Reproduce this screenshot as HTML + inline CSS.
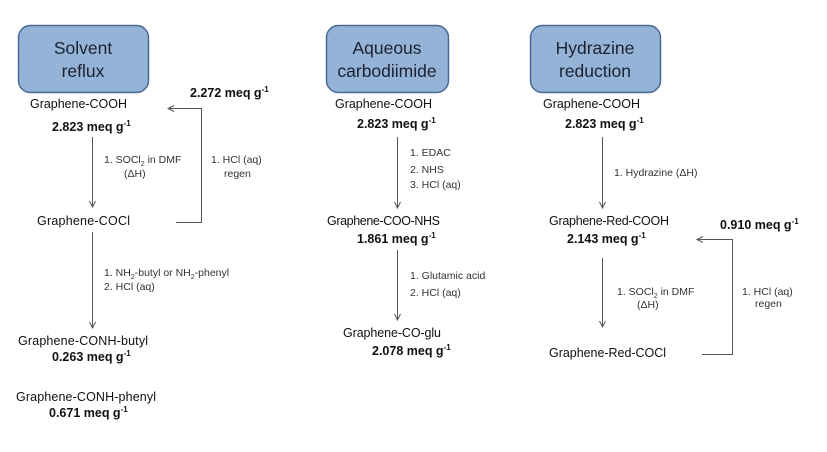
<!DOCTYPE html>
<html><head><meta charset="utf-8"><style>
html,body{margin:0;padding:0;background:#fff;}
svg{display:block;font-family:"Liberation Sans",sans-serif;}
.m{font-size:12.5px;fill:#111;}
.b{font-size:12.5px;font-weight:bold;fill:#111;}
.s{font-size:10.5px;fill:#333;}
.h{font-size:17.5px;fill:#1a2233;}
.l{stroke:#555;stroke-width:1;fill:none;}
</style></head><body>
<svg width="827" height="452" viewBox="0 0 827 452">
<defs><marker id="a" markerWidth="8" markerHeight="8" refX="7" refY="4" orient="auto" markerUnits="userSpaceOnUse"><path d="M1,1 L7,4 L1,7" fill="none" stroke="#555" stroke-width="1"/></marker></defs>
<rect x="18.5" y="25.5" width="130" height="67" rx="12" fill="#95b3d7" stroke="#4a6a96" stroke-width="1.5"/>
<text class="h" x="83" y="54" text-anchor="middle">Solvent</text>
<text class="h" x="83" y="77" text-anchor="middle">reflux</text>
<rect x="326.5" y="25.5" width="122" height="67" rx="12" fill="#95b3d7" stroke="#4a6a96" stroke-width="1.5"/>
<text class="h" x="387" y="54" text-anchor="middle">Aqueous</text>
<text class="h" x="387" y="77" text-anchor="middle">carbodiimide</text>
<rect x="530.5" y="25.5" width="130" height="67" rx="12" fill="#95b3d7" stroke="#4a6a96" stroke-width="1.5"/>
<text class="h" x="595" y="54" text-anchor="middle">Hydrazine</text>
<text class="h" x="595" y="77" text-anchor="middle">reduction</text>

<!-- left -->
<text class="m" x="30" y="108" textLength="97">Graphene-COOH</text>
<text class="b" x="52" y="131">2.823 meq g<tspan font-size="8" dy="-5">-1</tspan></text>
<text class="b" x="190" y="97">2.272 meq g<tspan font-size="8" dy="-5">-1</tspan></text>
<line class="l" x1="92.5" y1="137" x2="92.5" y2="207" marker-end="url(#a)"/>
<text class="s" x="104" y="163">1. SOCl<tspan font-size="7" dy="3">2</tspan><tspan dy="-3"> in DMF</tspan></text>
<text class="s" x="124" y="177">(ΔH)</text>
<polyline class="l" points="176,222.5 201.5,222.5 201.5,108.5 168,108.5" marker-end="url(#a)"/>
<text class="s" x="211" y="163">1. HCl (aq)</text>
<text class="s" x="224" y="177">regen</text>
<text class="m" x="37" y="225" textLength="93">Graphene-COCl</text>
<line class="l" x1="92.5" y1="232" x2="92.5" y2="328" marker-end="url(#a)"/>
<text class="s" x="104" y="276">1. NH<tspan font-size="7" dy="3">2</tspan><tspan dy="-3">-butyl or NH</tspan><tspan font-size="7" dy="3">2</tspan><tspan dy="-3">-phenyl</tspan></text>
<text class="s" x="104" y="290">2. HCl (aq)</text>
<text class="m" x="18" y="345" textLength="130">Graphene-CONH-butyl</text>
<text class="b" x="52" y="361">0.263 meq g<tspan font-size="8" dy="-5">-1</tspan></text>
<text class="m" x="16" y="401" textLength="140">Graphene-CONH-phenyl</text>
<text class="b" x="49" y="417">0.671 meq g<tspan font-size="8" dy="-5">-1</tspan></text>

<!-- middle -->
<text class="m" x="335" y="108" textLength="97">Graphene-COOH</text>
<text class="b" x="357" y="128">2.823 meq g<tspan font-size="8" dy="-5">-1</tspan></text>
<line class="l" x1="397.5" y1="137" x2="397.5" y2="208" marker-end="url(#a)"/>
<text class="s" x="410" y="156">1. EDAC</text>
<text class="s" x="410" y="173">2. NHS</text>
<text class="s" x="410" y="188">3. HCl (aq)</text>
<text class="m" x="327" y="225" textLength="113">Graphene-COO-NHS</text>
<text class="b" x="357" y="243">1.861 meq g<tspan font-size="8" dy="-5">-1</tspan></text>
<line class="l" x1="397.5" y1="250" x2="397.5" y2="320" marker-end="url(#a)"/>
<text class="s" x="410" y="279">1. Glutamic acid</text>
<text class="s" x="410" y="296">2. HCl (aq)</text>
<text class="m" x="343" y="337" textLength="98">Graphene-CO-glu</text>
<text class="b" x="372" y="355">2.078 meq g<tspan font-size="8" dy="-5">-1</tspan></text>

<!-- right -->
<text class="m" x="543" y="108" textLength="97">Graphene-COOH</text>
<text class="b" x="565" y="128">2.823 meq g<tspan font-size="8" dy="-5">-1</tspan></text>
<line class="l" x1="602.5" y1="137" x2="602.5" y2="208" marker-end="url(#a)"/>
<text class="s" x="614" y="176">1. Hydrazine (ΔH)</text>
<text class="m" x="549" y="225" textLength="120">Graphene-Red-COOH</text>
<text class="b" x="567" y="243">2.143 meq g<tspan font-size="8" dy="-5">-1</tspan></text>
<text class="b" x="720" y="229">0.910 meq g<tspan font-size="8" dy="-5">-1</tspan></text>
<line class="l" x1="602.5" y1="258" x2="602.5" y2="327" marker-end="url(#a)"/>
<text class="s" x="617" y="295">1. SOCl<tspan font-size="7" dy="3">2</tspan><tspan dy="-3"> in DMF</tspan></text>
<text class="s" x="637" y="308">(ΔH)</text>
<polyline class="l" points="702,354.5 732.5,354.5 732.5,239.5 697,239.5" marker-end="url(#a)"/>
<text class="s" x="742" y="295">1. HCl (aq)</text>
<text class="s" x="755" y="307">regen</text>
<text class="m" x="549" y="357" textLength="117">Graphene-Red-COCl</text>
</svg>
</body></html>
